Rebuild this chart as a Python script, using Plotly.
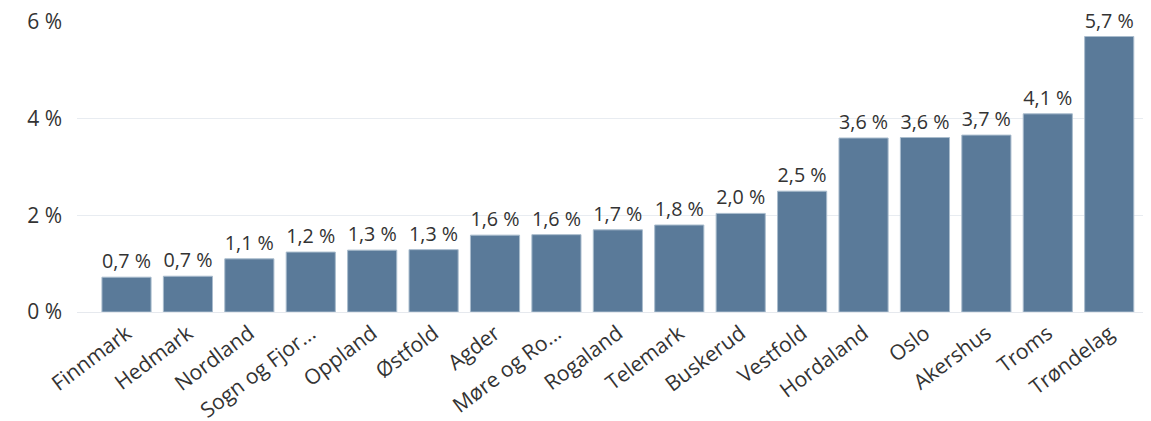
import plotly.graph_objects as go

categories = ["Finnmark", "Hedmark", "Nordland", "Sogn og Fjor...", "Oppland", "Østfold",
              "Agder", "Møre og Ro...", "Rogaland", "Telemark", "Buskerud", "Vestfold",
              "Hordaland", "Oslo", "Akershus", "Troms", "Trøndelag"]
values = [0.72, 0.74, 1.10, 1.24, 1.28, 1.29, 1.59, 1.60, 1.70, 1.80, 2.04, 2.50,
          3.60, 3.61, 3.66, 4.10, 5.70]
y_ticks = [0, 2, 4, 6]
y_tick_labels = ["0 %", "2 %", "4 %", "6 %"]

fig = go.Figure(go.Bar(
    x=categories, y=values,
    marker=dict(color="#5a7a99", line=dict(color="#a9bccd", width=1)),
    texttemplate="%{y:.1f} %", textposition="outside",
    textfont=dict(size=20, color="#333333", family="Open Sans"),
    cliponaxis=False, width=0.8,
))
fig.update_layout(
    width=1151, height=421,
    margin=dict(l=77, r=8, t=22, b=109, autoexpand=False),
    plot_bgcolor="white", paper_bgcolor="white",
    separators=", ",
    showlegend=False,
    font=dict(family="Open Sans", color="#333333"),
    uniformtext=dict(minsize=8, mode="show"),
)
fig.update_xaxes(range=[-0.806, 16.55], tickangle=-37, tickfont=dict(size=21, color="#333333"),
                 showline=True, linecolor="#e6e9ee", ticks="", automargin=False)
fig.update_yaxes(range=[0, 6], tickmode="array", tickvals=y_ticks, ticktext=y_tick_labels,
                 tickfont=dict(size=21, color="#333333"), gridcolor="#e8ecf1",
                 zeroline=False, ticklabelstandoff=14, automargin=False)
fig.write_html("out.html", config={"displayModeBar": False},
               post_script="document.body.style.margin='0';")
